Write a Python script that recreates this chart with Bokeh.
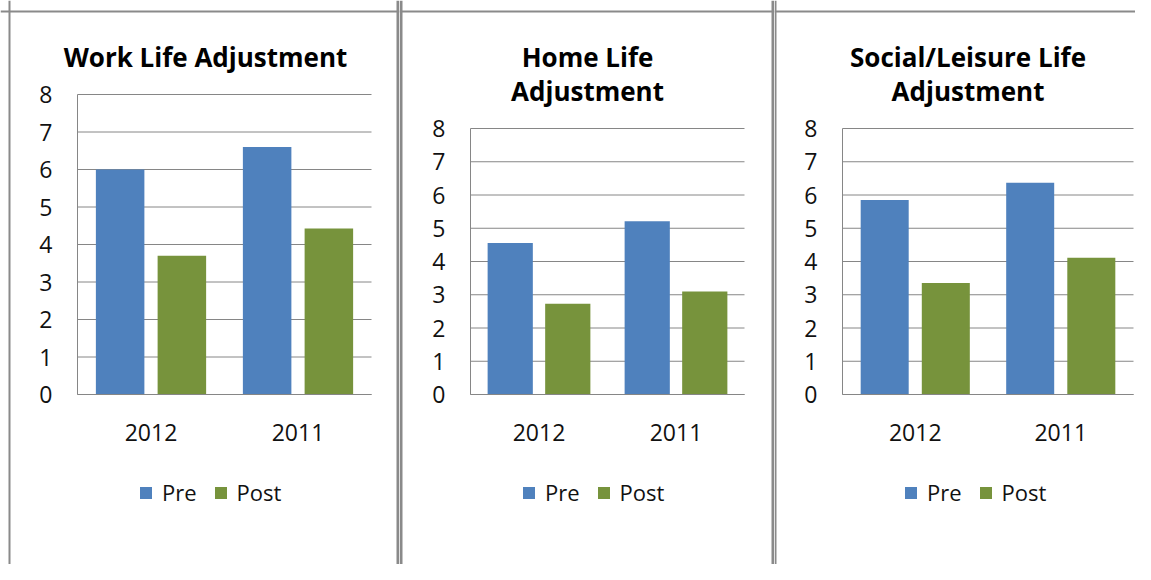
from bokeh.plotting import figure
from bokeh.models import Range1d, Label, Legend, LegendItem, ColumnDataSource, FixedTicker, Span
from bokeh.layouts import row
from bokeh.embed import file_html
from bokeh.resources import INLINE

# ---- data ----
categories = ["2012", "2011"]
series_names = ["Pre", "Post"]
work_pre = [6.0, 6.6]
work_post = [3.7, 4.43]
home_pre = [4.56, 5.21]
home_post = [2.73, 3.10]
social_pre = [5.85, 6.37]
social_post = [3.35, 4.11]
titles = [["Work Life Adjustment"], ["Home Life", "Adjustment"], ["Social/Leisure Life", "Adjustment"]]
y_ticks = [0, 1, 2, 3, 4, 5, 6, 7, 8]

# ---- style / layout ----
BLUE = "#4F81BD"
GREEN = "#77933C"
GRID = "#868686"
BORDER = "#8a8a8a"
TEXT = "#111111"
FONT = "Open Sans"
H = 564
YMAX = y_ticks[-1]


def make_panel(title_lines, pre, post, W, left, right, top, bottom, title_x, legend_x, vborders):
    n = len(categories)
    ppx = (right - left) / n
    ppy = (bottom - top) / YMAX
    x_range = Range1d(-left / ppx, (W - left) / ppx)
    y_range = Range1d(-(H - bottom) / ppy, YMAX + top / ppy)
    p = figure(x_range=x_range, y_range=y_range, width=W, height=H,
               output_backend="svg", toolbar_location=None, title=None, min_border=0,
               min_border_left=0, min_border_right=0, min_border_top=0, min_border_bottom=0)
    p.outline_line_color = None
    p.background_fill_color = "white"
    p.border_fill_color = "white"
    p.xgrid.visible = False
    p.ygrid.visible = False

    cat_x = [i + 0.5 for i in range(n)]
    src = ColumnDataSource(dict(
        x_pre=[c - 0.21 for c in cat_x], x_post=[c + 0.21 for c in cat_x], pre=pre, post=post))

    # gridlines from tick values
    p.segment(x0=[0] * len(y_ticks), x1=[n] * len(y_ticks), y0=y_ticks, y1=y_ticks,
              line_color=GRID, line_width=1)

    r_pre = p.vbar(x="x_pre", top="pre", bottom=0, width=0.33, source=src,
                   fill_color=BLUE, line_color=None)
    r_post = p.vbar(x="x_post", top="post", bottom=0, width=0.33, source=src,
                    fill_color=GREEN, line_color=None)

    xa = p.xaxis[0]
    ya = p.yaxis[0]
    xa.fixed_location = 0
    ya.fixed_location = 0
    xa.bounds = (0, n)
    ya.bounds = (0, YMAX)
    xa.ticker = FixedTicker(ticks=cat_x)
    xa.major_label_overrides = {c: lab for c, lab in zip(cat_x, categories)}
    ya.ticker = FixedTicker(ticks=y_ticks)
    for ax in (xa, ya):
        ax.axis_line_color = GRID
        ax.axis_line_width = 1
        ax.major_tick_line_color = None
        ax.minor_tick_line_color = None
        ax.major_label_text_font = FONT
        ax.major_label_text_font_size = "23px"
        ax.major_label_text_color = TEXT
    ya.major_label_standoff = 19
    xa.major_label_standoff = 23

    # title lines: baselines 56 and 90.5 px from canvas top
    for i, line in enumerate(title_lines):
        p.add_layout(Label(x=title_x, y=H - (56 + 34.5 * i), x_units="screen", y_units="screen",
                           text=line, text_align="center", text_baseline="alphabetic",
                           text_font=FONT, text_font_style="bold", text_font_size="26px",
                           text_color="#000000"))

    legend = Legend(items=[LegendItem(label=series_names[0], renderers=[r_pre]),
                           LegendItem(label=series_names[1], renderers=[r_post])],
                    orientation="horizontal", location=(legend_x, H - 507),
                    glyph_width=15, glyph_height=15, label_height=15, label_standoff=9, spacing=16,
                    padding=0, margin=0, border_line_color=None, background_fill_alpha=0,
                    label_text_font=FONT, label_text_font_size="22px", label_text_color=TEXT)
    p.add_layout(legend, "center")

    # panel border lines (screen px from canvas left / bottom)
    p.add_layout(Span(location=H - 11, location_units="screen", dimension="width",
                      line_color=BORDER, line_width=2))
    for loc, w in vborders:
        p.add_layout(Span(location=loc, location_units="screen", dimension="height",
                          line_color=BORDER, line_width=w))
    return p


p1 = make_panel(titles[0], work_pre, work_post, 399, 77, 371, 94, 394, 205, 138,
                [(9, 2), (397.5, 3)])
p2 = make_panel(titles[1], home_pre, home_post, 375, 71, 345, 128, 394, 188, 122,
                [(1.5, 3), (373.5, 3)])
p3 = make_panel(titles[2], social_pre, social_post, 361, 68, 359, 128, 394, 193.5, 129,
                [(1, 2)])

layout = row(p1, p2, p3)
open("out.html", "w").write(file_html(layout, INLINE))
